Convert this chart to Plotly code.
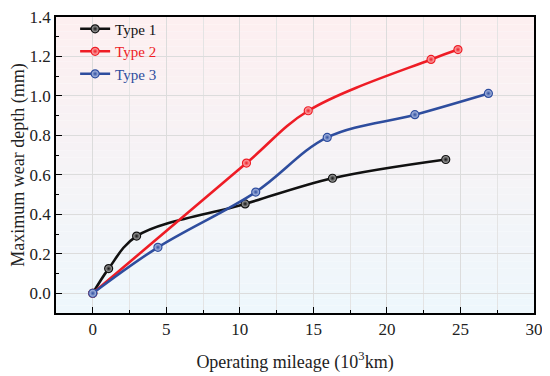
import plotly.graph_objects as go

# Data
type1_x = [0, 1.08, 2.98, 10.36, 16.3, 24.0]
type1_y = [0, 0.125, 0.29, 0.453, 0.583, 0.678]
type2_x = [0, 10.45, 14.65, 23.0, 24.83]
type2_y = [0, 0.66, 0.925, 1.185, 1.235]
type3_x = [0, 4.43, 11.08, 15.94, 21.9, 26.9]
type3_y = [0, 0.233, 0.513, 0.79, 0.905, 1.013]

series = [
    ("Type 1", type1_x, type1_y, "#111111", "#bdbdbd"),
    ("Type 2", type2_x, type2_y, "#ee1c25", "#ffc8c8"),
    ("Type 3", type3_x, type3_y, "#2e4d9e", "#c4d0f0"),
]

FONT = "Liberation Serif"
fig = go.Figure()
for name, xs, ys, col, light in series:
    fig.add_trace(go.Scatter(
        x=xs, y=ys, mode="lines+markers",
        name="<span style='color:%s'>%s</span>" % (col, name),
        line=dict(color=col, width=2.6, shape="spline", smoothing=1.0),
        marker=dict(size=8, color=light, symbol="circle",
                    gradient=dict(type="radial", color=col),
                    line=dict(color=col, width=1.2)),
    ))

# vertical background gradient (pink top -> light blue bottom)
top = (253, 239, 240)
bot = (238, 247, 252)
n = 40
for i in range(n):
    t = i / (n - 1)
    c = tuple(round(top[k] + (bot[k] - top[k]) * t) for k in range(3))
    fig.add_shape(type="rect", xref="x domain", yref="y domain",
                  x0=0, x1=1, y0=1 - (i + 1) / n, y1=1 - i / n,
                  fillcolor="rgb(%d,%d,%d)" % c, line=dict(width=0),
                  layer="below")

axis_common = dict(
    showline=True, linecolor="black", linewidth=1.5, mirror=True,
    ticks="inside", ticklen=6, tickwidth=1.2, tickcolor="black",
    showgrid=True, gridcolor="#dcdcdc", gridwidth=1, zeroline=False,
    automargin=False, ticklabeloverflow="allow",
    tickfont=dict(family=FONT, size=17, color="#222"),
)
fig.update_xaxes(range=[-2.5, 30.0001], dtick=5, tick0=0,
                 minor=dict(dtick=2.5, ticks="inside", ticklen=3, tickcolor="black",
                            showgrid=True, gridcolor="#e4e4e4"),
                 title=dict(text="Operating mileage (10<sup>3</sup>km)",
                            font=dict(family=FONT, size=18, color="#222"), standoff=17),
                 **axis_common)
fig.update_yaxes(range=[-0.1, 1.4001], dtick=0.2, tick0=0, tickformat=".1f",
                 minor=dict(dtick=0.1, ticks="inside", ticklen=3, tickcolor="black",
                            showgrid=False),
                 title=dict(text="Maximum wear depth (mm)",
                            font=dict(family=FONT, size=18, color="#222"), standoff=6),
                 **axis_common)

# page body has an 8px default margin, so the figure is sized/margined to compensate
fig.update_layout(
    width=542, height=368,
    margin=dict(l=48, r=16, t=5, b=63),
    paper_bgcolor="white", plot_bgcolor="rgba(0,0,0,0)",
    showlegend=True,
    legend=dict(x=0.04, y=1.015, xanchor="left", yanchor="top",
                bgcolor="rgba(0,0,0,0)", borderwidth=0,
                font=dict(family=FONT, size=15, color="#222"),
                tracegroupgap=0),
)

fig.write_html("out.html")
